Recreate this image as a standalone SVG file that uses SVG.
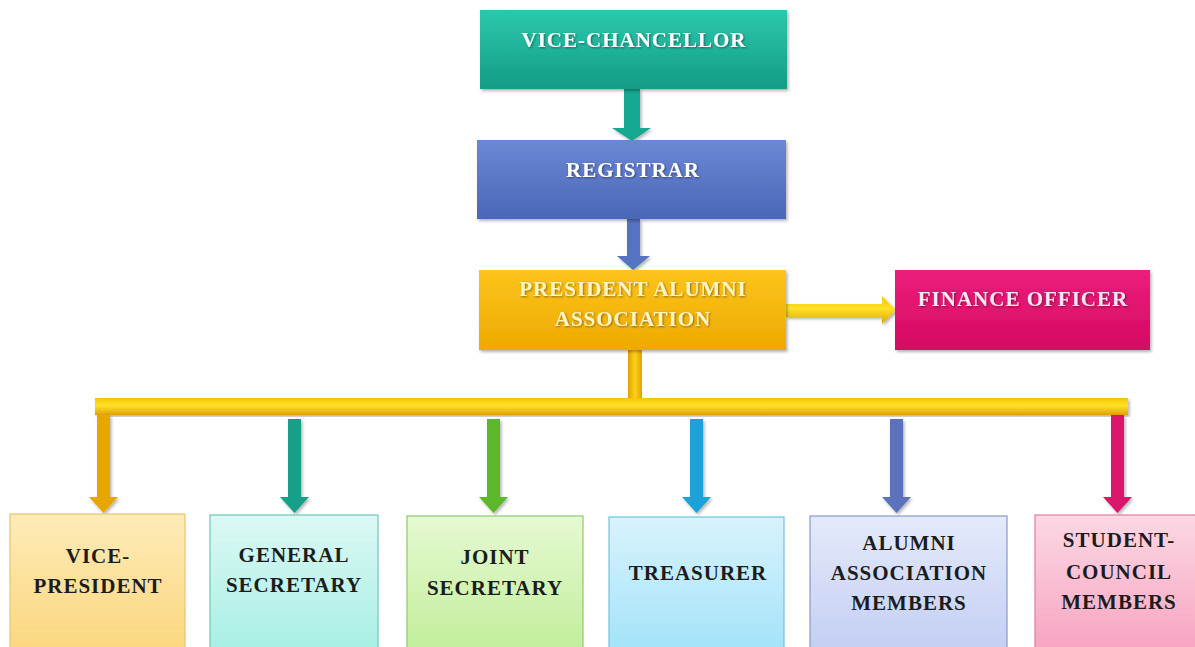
<svg xmlns="http://www.w3.org/2000/svg" width="1195" height="647" viewBox="0 0 1195 647">
<defs>
<linearGradient id="gTeal" x1="0" y1="0" x2="0" y2="1"><stop offset="0" stop-color="#2cc8ad"/><stop offset="1" stop-color="#139c88"/></linearGradient>
<linearGradient id="gBlue" x1="0" y1="0" x2="0" y2="1"><stop offset="0" stop-color="#6b88d4"/><stop offset="1" stop-color="#4b66b8"/></linearGradient>
<linearGradient id="gGold" x1="0" y1="0" x2="0" y2="1"><stop offset="0" stop-color="#fcc41c"/><stop offset="1" stop-color="#eeaa00"/></linearGradient>
<linearGradient id="gPink" x1="0" y1="0" x2="0" y2="1"><stop offset="0" stop-color="#ec1e7c"/><stop offset="1" stop-color="#d40a62"/></linearGradient>
<linearGradient id="gBar" x1="0" y1="0" x2="0" y2="1"><stop offset="0" stop-color="#f5c400"/><stop offset="0.45" stop-color="#ffe22a"/><stop offset="1" stop-color="#e0a000"/></linearGradient>
<linearGradient id="gBarV" x1="0" y1="0" x2="1" y2="0"><stop offset="0" stop-color="#e0a000"/><stop offset="0.5" stop-color="#ffd21a"/><stop offset="1" stop-color="#e0a000"/></linearGradient>
<linearGradient id="bVP" x1="0" y1="0" x2="0" y2="1"><stop offset="0" stop-color="#fdebb8"/><stop offset="1" stop-color="#fbd67c"/></linearGradient>
<linearGradient id="bGS" x1="0" y1="0" x2="0" y2="1"><stop offset="0" stop-color="#dcf8f4"/><stop offset="1" stop-color="#a6efe4"/></linearGradient>
<linearGradient id="bJS" x1="0" y1="0" x2="0" y2="1"><stop offset="0" stop-color="#e6f9d2"/><stop offset="1" stop-color="#c0ee98"/></linearGradient>
<linearGradient id="bT" x1="0" y1="0" x2="0" y2="1"><stop offset="0" stop-color="#d8f3fc"/><stop offset="1" stop-color="#a2e2f8"/></linearGradient>
<linearGradient id="bAA" x1="0" y1="0" x2="0" y2="1"><stop offset="0" stop-color="#e4eafb"/><stop offset="1" stop-color="#c2cdf2"/></linearGradient>
<linearGradient id="bSC" x1="0" y1="0" x2="0" y2="1"><stop offset="0" stop-color="#fcd8e4"/><stop offset="1" stop-color="#f7a2c0"/></linearGradient>
<filter id="sh" x="-5%" y="-5%" width="112%" height="115%"><feDropShadow dx="1.5" dy="2" stdDeviation="1.5" flood-color="#000" flood-opacity="0.3"/></filter>
<filter id="ts" x="-5%" y="-20%" width="110%" height="150%"><feDropShadow dx="1" dy="1" stdDeviation="0.8" flood-color="#000" flood-opacity="0.45"/></filter>
</defs>
<style>
.top{font-family:"Liberation Serif","Times New Roman",serif;font-weight:bold;font-size:21px;letter-spacing:1px;fill:#ffffff;text-anchor:middle;filter:url(#ts)}
.bot{font-family:"Liberation Serif","Times New Roman",serif;font-weight:bold;font-size:21px;letter-spacing:1px;fill:#1c1c1c;text-anchor:middle}
.tb{filter:url(#sh)}
.lb{stroke-width:1.2}
</style>
<rect width="1195" height="647" fill="#ffffff"/>
<g id="connectors">
<path d="M624,89 H640 V128 H651 L632,141 L612,128 H624 Z" fill="#19a892" filter="url(#sh)"/>
<path d="M627,219 H640 V256 H650 L633,270 L617,256 H627 Z" fill="#5672c2" filter="url(#sh)"/>
<path d="M786,304 H882 V296 L896,310 L882,324 V317 H786 Z" fill="url(#gBar)" filter="url(#sh)"/>
<rect x="628" y="350" width="14" height="52" fill="url(#gBarV)"/>
<rect x="95" y="398" width="1033" height="17" fill="url(#gBar)" filter="url(#sh)"/>
<path d="M97,415 H110 V497 H118 L103.5,513 L89,497 H97 Z" fill="#e8a600" filter="url(#sh)"/>
<path d="M288,419 H301 V497 H309 L294.5,513 L280,497 H288 Z" fill="#14a08a" filter="url(#sh)"/>
<path d="M487,419 H500 V497 H508 L493.5,513 L479,497 H487 Z" fill="#5cb82a" filter="url(#sh)"/>
<path d="M690,419 H703 V497 H711 L696.5,513 L682,497 H690 Z" fill="#1aa2d8" filter="url(#sh)"/>
<path d="M890,419 H903 V497 H911 L896.5,513 L882,497 H890 Z" fill="#5b72bc" filter="url(#sh)"/>
<path d="M1111,415 H1124 V497 H1132 L1117.5,513 L1103,497 H1111 Z" fill="#d8146a" filter="url(#sh)"/>
</g>
<g id="vice-chancellor"><rect x="480" y="10" width="307" height="79" fill="url(#gTeal)" class="tb"/><text x="634" y="47" class="top">VICE-CHANCELLOR</text></g>
<g id="registrar"><rect x="477" y="140" width="309" height="79" fill="url(#gBlue)" class="tb"/><text x="633" y="177" class="top">REGISTRAR</text></g>
<g id="president"><rect x="479" y="270" width="307" height="80" fill="url(#gGold)" class="tb"/><text x="633" y="296" class="top" style="fill:#fff4c4">PRESIDENT ALUMNI</text><text x="633" y="326" class="top" style="fill:#fff4c4">ASSOCIATION</text></g>
<g id="finance-officer"><rect x="895" y="270" width="255" height="80" fill="url(#gPink)" class="tb"/><text x="1023" y="306" class="top" style="fill:#fbe6f0">FINANCE OFFICER</text></g>
<g id="vice-president"><rect x="10" y="514" width="175" height="140" fill="url(#bVP)" stroke="#e8c470" class="lb"/><text x="98" y="563" class="bot">VICE-</text><text x="98" y="593" class="bot">PRESIDENT</text></g>
<g id="general-secretary"><rect x="210" y="515" width="168" height="140" fill="url(#bGS)" stroke="#6cc8bc" class="lb"/><text x="294" y="562" class="bot">GENERAL</text><text x="294" y="592" class="bot">SECRETARY</text></g>
<g id="joint-secretary"><rect x="407" y="516" width="176" height="140" fill="url(#bJS)" stroke="#8ccc6c" class="lb"/><text x="495" y="564" class="bot">JOINT</text><text x="495" y="595" class="bot">SECRETARY</text></g>
<g id="treasurer"><rect x="609" y="517" width="175" height="140" fill="url(#bT)" stroke="#6cc4e4" class="lb"/><text x="698" y="580" class="bot">TREASURER</text></g>
<g id="alumni-association-members"><rect x="810" y="516" width="197" height="140" fill="url(#bAA)" stroke="#8898cc" class="lb"/><text x="909" y="550" class="bot">ALUMNI</text><text x="909" y="580" class="bot">ASSOCIATION</text><text x="909" y="610" class="bot">MEMBERS</text></g>
<g id="student-council-members"><rect x="1035" y="515" width="170" height="140" fill="url(#bSC)" stroke="#e07ca0" class="lb"/><text x="1119" y="547" class="bot">STUDENT-</text><text x="1119" y="579" class="bot">COUNCIL</text><text x="1119" y="609" class="bot">MEMBERS</text></g>
</svg>
